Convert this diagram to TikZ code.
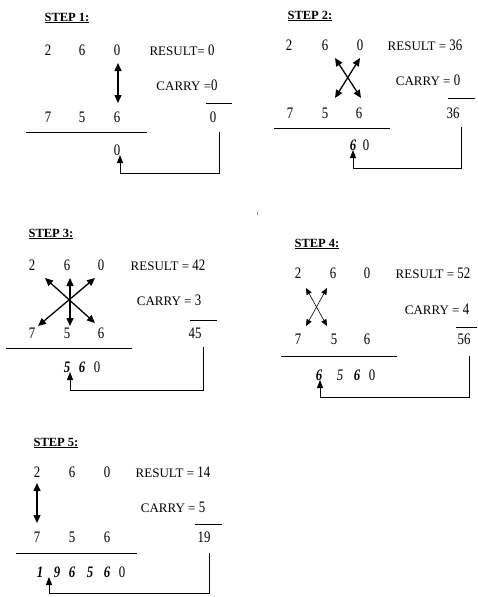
\documentclass[tikz,border=0pt]{standalone}
\usepackage{fontspec}
\setmainfont{Liberation Serif}
\newfontfamily\digfont[FakeStretch=0.8]{Liberation Serif}
\usetikzlibrary{arrows.meta}
\tikzset{
  dg/.style={inner sep=0pt, font=\digfont\fontsize{16}{16}\selectfont},
  ansd/.style={inner sep=0pt, font=\digfont\fontsize{16}{16}\selectfont\bfseries\itshape},
  lab/.style={inner sep=0pt, font=\fontsize{13}{13}\selectfont},
  ttl/.style={inner sep=0pt, font=\fontsize{12.5}{12.5}\selectfont\bfseries},
  rule/.style={line width=0.8pt},
  conn/.style={line width=0.9pt, -{Triangle[length=8pt,width=6pt]}},
  dbl/.style={line width=1.3pt, {Triangle[length=8pt,width=7pt]}-{Triangle[length=8pt,width=7pt]}},
  dblthin/.style={line width=0.6pt, {Triangle[length=6.5pt,width=5.5pt]}-{Triangle[length=6.5pt,width=5.5pt]}}
}
\newcommand{\vd}[1]{{\digfont\fontsize{16}{16}\selectfont #1}}
\begin{document}
\begin{tikzpicture}[x=1pt,y=-1pt]
\useasboundingbox (0,0) rectangle (477,597);
% ---------------- STEP 1
\node[ttl] (t1) at (67,18) {\underline{STEP 1:}};
\node[dg] (a12) at (48,50) {2};
\node[dg] (a16) at (82,50) {6};
\node[dg] (a10) at (117,50) {0};
\node[dg] (b17) at (48,117) {7};
\node[dg] (b15) at (82,117) {5};
\node[dg] (b16) at (117,117) {6};
\node[lab] (r1) at (182,50) {RESULT= \vd{0}};
\node[lab] (c1) at (187,85) {CARRY =\vd{0}};
\node[dg] (v1) at (213,117) {0};
\coordinate (o1a) at (206,103); \coordinate (o1b) at (232,103);
\draw[rule] (o1a) -- (o1b);
\coordinate (h1a) at (26,132); \coordinate (h1b) at (147,132);
\draw[rule] (h1a) -- (h1b);
\coordinate (x1a) at (118,63); \coordinate (x1b) at (118,103);
\draw[dbl] (x1a) -- (x1b);
\node[ansd] (s10) at (117,150) {\mdseries\upshape 0};
\coordinate (k1a) at (219,132); \coordinate (k1b) at (120,173); \coordinate (k1c) at (120,155);
\draw[conn] (k1a) |- (k1b) -- (k1c);
% ---------------- STEP 2
\node[ttl] (t2) at (310,16) {\underline{STEP 2:}};
\node[dg] (a22) at (289,45) {2};
\node[dg] (a26) at (325,45) {6};
\node[dg] (a20) at (360,45) {0};
\node[dg] (b27) at (290,113) {7};
\node[dg] (b25) at (325,113) {5};
\node[dg] (b26) at (359,113) {6};
\node[lab] (r2) at (425,45) {RESULT = \vd{36}};
\node[lab] (c2) at (428,80) {CARRY = \vd{0}};
\node[dg] (v2) at (453,113) {36};
\coordinate (o2a) at (448,98); \coordinate (o2b) at (475,98);
\draw[rule] (o2a) -- (o2b);
\coordinate (h2a) at (274,128); \coordinate (h2b) at (390,128);
\draw[rule] (h2a) -- (h2b);
\coordinate (x2a) at (335,58); \coordinate (x2b) at (361,98);
\coordinate (x2c) at (360,58); \coordinate (x2d) at (335,98);
\draw[dbl] (x2a) -- (x2b);
\draw[dbl] (x2c) -- (x2d);
\node[ansd] (s26) at (353,145) {6};
\node[dg] (s20) at (366,145) {0};
\coordinate (k2a) at (461,127); \coordinate (k2b) at (353,168); \coordinate (k2c) at (353,150);
\draw[conn] (k2a) |- (k2b) -- (k2c);
% ---------------- STEP 3
\node[ttl] (t3) at (51,234) {\underline{STEP 3:}};
\node[dg] (a32) at (32,265) {2};
\node[dg] (a36) at (67,265) {6};
\node[dg] (a30) at (101,265) {0};
\node[dg] (b37) at (32,333) {7};
\node[dg] (b35) at (67,333) {5};
\node[dg] (b36) at (101,333) {6};
\node[lab] (r3) at (168,265) {RESULT = \vd{42}};
\node[lab] (c3) at (169,300) {CARRY = \vd{3}};
\node[dg] (v3) at (195,333) {45};
\coordinate (o3a) at (190,320); \coordinate (o3b) at (217,320);
\draw[rule] (o3a) -- (o3b);
\coordinate (h3a) at (6,348); \coordinate (h3b) at (132,348);
\draw[rule] (h3a) -- (h3b);
\coordinate (x3a) at (45,278); \coordinate (x3b) at (95,323);
\coordinate (x3c) at (95,278); \coordinate (x3d) at (38,326);
\coordinate (x3e) at (70,278); \coordinate (x3f) at (70,326);
\draw[dbl] (x3a) -- (x3b);
\draw[dbl] (x3c) -- (x3d);
\draw[dbl] (x3e) -- (x3f);
\node[ansd] (s35) at (67,367) {5};
\node[ansd] (s36) at (82,367) {6};
\node[dg] (s30) at (97,367) {0};
\coordinate (k3a) at (203,347); \coordinate (k3b) at (70,390); \coordinate (k3c) at (70,372);
\draw[conn] (k3a) |- (k3b) -- (k3c);
% ---------------- STEP 4
\node[ttl] (t4) at (317,244) {\underline{STEP 4:}};
\node[dg] (a42) at (298,273) {2};
\node[dg] (a46) at (333,273) {6};
\node[dg] (a40) at (367,273) {0};
\node[dg] (b47) at (298,339) {7};
\node[dg] (b45) at (334,339) {5};
\node[dg] (b46) at (367,339) {6};
\node[lab] (r4) at (433,273) {RESULT = \vd{52}};
\node[lab] (c4) at (437,309) {CARRY = \vd{4}};
\node[dg] (v4) at (464,339) {56};
\coordinate (o4a) at (456,327); \coordinate (o4b) at (477,327);
\draw[rule] (o4a) -- (o4b);
\coordinate (h4a) at (281,356); \coordinate (h4b) at (397,356);
\draw[rule] (h4a) -- (h4b);
\coordinate (x4a) at (306,288); \coordinate (x4b) at (327,326);
\coordinate (x4c) at (327,288); \coordinate (x4d) at (306,326);
\draw[dblthin] (x4a) -- (x4b);
\draw[dblthin] (x4c) -- (x4d);
\node[ansd] (s46) at (319,375) {6};
\node[ansd] (s45) at (340,375) {\mdseries 5};
\node[ansd] (s46b) at (357,375) {6};
\node[dg] (s40) at (372,375) {0};
\coordinate (k4a) at (469,356); \coordinate (k4b) at (320,397); \coordinate (k4c) at (320,380);
\draw[conn] (k4a) |- (k4b) -- (k4c);
% ---------------- STEP 5
\node[ttl] (t5) at (56,443) {\underline{STEP 5:}};
\node[dg] (a52) at (37,472) {2};
\node[dg] (a56) at (72,472) {6};
\node[dg] (a50) at (107,472) {0};
\node[dg] (b57) at (37,537) {7};
\node[dg] (b55) at (72,537) {5};
\node[dg] (b56) at (107,537) {6};
\node[lab] (r5) at (173,472) {RESULT = \vd{14}};
\node[lab] (c5) at (173,507) {CARRY = \vd{5}};
\node[dg] (v5) at (204,537) {19};
\coordinate (o5a) at (195,524); \coordinate (o5b) at (222,524);
\draw[rule] (o5a) -- (o5b);
\coordinate (h5a) at (16,553); \coordinate (h5b) at (137,553);
\draw[rule] (h5a) -- (h5b);
\coordinate (x5a) at (37,483); \coordinate (x5b) at (37,523);
\draw[dbl] (x5a) -- (x5b);
\node[ansd] (s51) at (40,572) {1};
\node[ansd] (s59) at (57,572) {9};
\node[ansd] (s56) at (72,572) {6};
\node[ansd] (s55) at (90,572) {5};
\node[ansd] (s56b) at (107,572) {6};
\node[dg] (s50) at (122,572) {0};
\coordinate (k5a) at (209,553); \coordinate (k5b) at (49,593); \coordinate (k5c) at (49,577);
\draw[conn] (k5a) |- (k5b) -- (k5c);
% stray mark
\fill[gray!70!orange] (257,211.5) rectangle (258.2,214.5);
\end{tikzpicture}
\end{document}
